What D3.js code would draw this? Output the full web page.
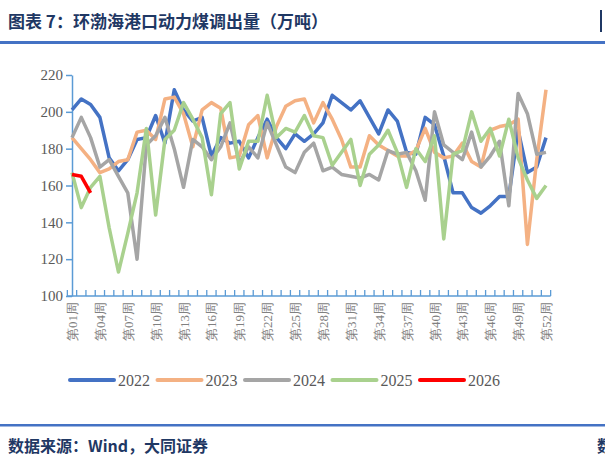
<!DOCTYPE html>
<html><head><meta charset="utf-8">
<script src="https://cdn.jsdelivr.net/npm/d3@7"></script>
<style>body{margin:0;background:#fff}svg{display:block}</style>
</head><body>
<script>
const weeks = d3.range(1,53).map(i=>"第"+String(i).padStart(2,"0")+"周");
const tickWeeks = weeks.filter((w,i)=>i%3===0);
const yTicks = [100,120,140,160,180,200,220];
const s2022 = [201,207,204,197,175,168,174,185,186,198,183,212,201,195,197,176,186,183,184,175,186,196,186,180,188,184,188,194,209,205,201,206,197,188,201,195,178,177,197,193,176,156,156,148,145,149,154,154,190,167,170,186];
const s2023 = [186,180,174,167,169,173,174,189,190,185,207,208,199,181,201,205,202,175,176,193,198,175,192,203,206,207,194,205,196,185,170,170,187,182,179,176,176,179,191,178,175,176,183,173,170,190,192,193,196,128,174,212];
const s2024 = [186,197,186,170,174,165,156,120,182,187,197,180,159,185,181,174,181,194,172,181,175,194,182,170,167,178,183,168,170,166,165,164,166,163,179,177,178,168,152,200,182,178,174,189,170,176,184,149,210,199,177,178];
const s2025 = [167,148,159,165,137,113,134,156,191,144,185,190,205,196,186,155,199,205,169,184,184,209,186,191,189,198,187,186,171,178,185,160,177,182,190,178,159,180,173,187,131,177,179,200,184,191,176,196,175,163,153,160];
const s2026 = [166,165,156];
const seriesNames = ["2022","2023","2024","2025","2026"];
const seriesData = [s2022,s2023,s2024,s2025,s2026];
const colors = ["#4472c4","#f4b183","#a5a5a5","#a9d18e","#ff0000"];

const W=605,H=468;
const svg=d3.select("body").append("svg").attr("width",W).attr("height",H);
const cn="'Noto Sans CJK SC',sans-serif", serif="'Liberation Serif','DejaVu Serif',serif";
svg.append("text").attr("x",8).attr("y",28).attr("font-family",cn).attr("font-size",17).attr("font-weight","bold").attr("fill","#1f3864").text("图表 7：环渤海港口动力煤调出量（万吨）");
svg.append("rect").attr("x",0).attr("y",41).attr("width",W).attr("height",3).attr("fill","#4472c4");
svg.append("rect").attr("x",600).attr("y",10).attr("width",2).attr("height",22).attr("fill","#1f3864");

const x=d3.scalePoint().domain(weeks).range([72,546]);
const y=d3.scaleLinear().domain([100,220]).range([296,75]);
const axC="#5b9bd5";
const ya=svg.append("g").attr("transform","translate(72,0)").call(d3.axisLeft(y).tickValues(yTicks).tickSize(6).tickSizeOuter(0));
ya.select(".domain").attr("stroke",axC).attr("stroke-width",1.5);
ya.selectAll(".tick line").attr("stroke",axC).attr("stroke-width",1.5).attr("x1",-6).attr("x2",0);
ya.selectAll("text").attr("font-family",serif).attr("font-size",15).attr("fill","#595959").attr("x",-9);

const step=x.step();
const xa=svg.append("g").attr("transform","translate(0,296)").call(d3.axisBottom(x).tickValues(tickWeeks).tickSize(0));
xa.select(".domain").remove();
svg.append("line").attr("x1",72-step/2).attr("x2",546+step/2).attr("y1",296).attr("y2",296).attr("stroke",axC).attr("stroke-width",1.5);
svg.append("g").selectAll("line").data(d3.range(53)).join("line")
 .attr("x1",i=>72-step/2+i*step).attr("x2",i=>72-step/2+i*step).attr("y1",296).attr("y2",290).attr("stroke",axC).attr("stroke-width",1.3);
xa.selectAll("text").attr("font-family",serif).attr("font-size",13).attr("fill","#808080")
 .attr("transform","rotate(-90)").attr("text-anchor","end").attr("dy","0.35em").attr("x",-6).attr("y",0);

const line=d3.line().x((d,i)=>x(weeks[i])).y(d=>y(d));
seriesData.forEach((s,k)=>{
  svg.append("path").datum(s).attr("d",line).attr("fill","none").attr("stroke",colors[k]).attr("stroke-width",3.5).attr("stroke-linejoin","round");
});

const lg=svg.append("g");
seriesNames.forEach((n,k)=>{
  const lx=70+k*87.5;
  lg.append("line").attr("x1",lx).attr("x2",lx+44).attr("y1",380).attr("y2",380).attr("stroke",colors[k]).attr("stroke-width",4).attr("stroke-linecap","round");
  lg.append("text").attr("x",lx+48).attr("y",386).attr("font-family",serif).attr("font-size",16).attr("fill","#595959").text(n);
});

svg.append("rect").attr("x",0).attr("y",424).attr("width",W).attr("height",2.5).attr("fill","#4472c4");
svg.append("text").attr("x",8).attr("y",452).attr("font-family",cn).attr("font-size",16).attr("font-weight","bold").attr("fill","#1f3864").text("数据来源：Wind，大同证券");
svg.append("text").attr("x",597).attr("y",452).attr("font-family",cn).attr("font-size",16).attr("font-weight","bold").attr("fill","#1f3864").text("数");
</script>
</body></html>
